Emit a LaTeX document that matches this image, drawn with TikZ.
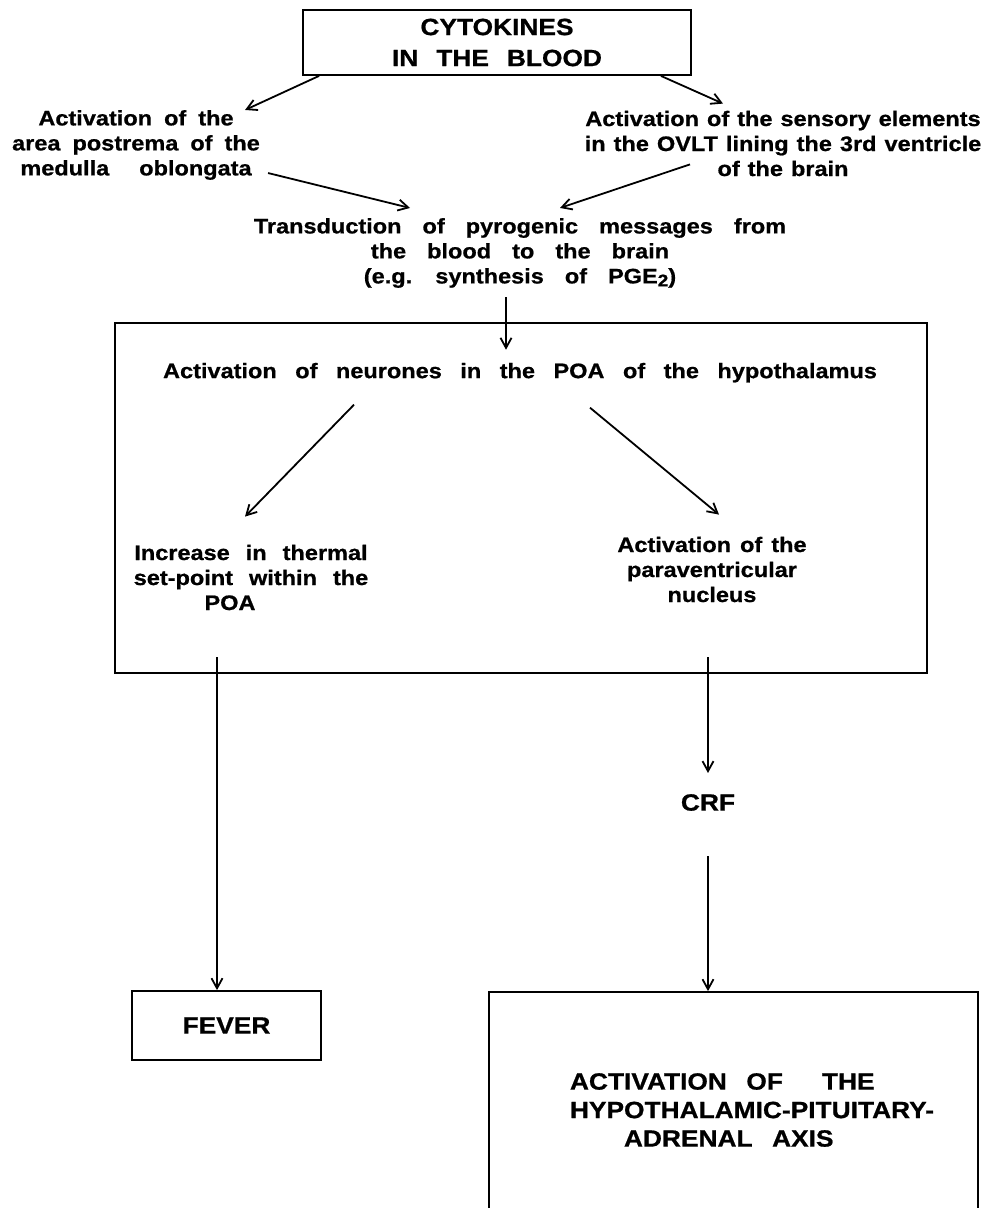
\documentclass[tikz,border=0pt]{standalone}
\usepackage{fontspec}
\setmainfont{Liberation Sans}[FakeStretch=1.12, BoldFeatures={FakeBold=0.8}]
\usetikzlibrary{arrows.meta,calc}

\newcommand{\bodyfont}{\fontsize{21}{25}\selectfont\bfseries}
\newcommand{\headfont}{\fontsize{23.5}{31}\selectfont\bfseries}
\newcommand{\wsp}[1]{\spaceskip=#1pt plus 1pt\relax}

\begin{document}
\begin{tikzpicture}[x=1pt, y=-1pt,
        box/.style={draw, line width=1.8pt, inner sep=0pt},
        txt/.style={inner sep=0pt, align=center},
        flow/.style={line width=1.8pt, -{Straight Barb[length=10pt,width=11pt]}}]

        \useasboundingbox (0,0) rectangle (985,1208);

        % Cytokines
        \node[box, align=center, font=\headfont\wsp{18}, minimum width=388pt, minimum height=65pt] (cyto) at (497,42.5) {CYTOKINES\\IN THE BLOOD};

        % Routes into the brain
        \node[txt, font=\bodyfont\wsp{12}] (postrema) at (136,145) {Activation of the\\area postrema of the\\medulla\hspace{30pt}oblongata};
        \node[txt, font=\bodyfont\wsp{8}] (ovlt) at (783,143.5) {Activation of the sensory elements\\in the OVLT lining the 3rd ventricle\\of the brain};
        \node[txt, font=\bodyfont\wsp{21}] (transd) at (520,253) {Transduction of pyrogenic messages from\\the blood to the brain\\(e.g. synthesis of PGE\raisebox{-3pt}{\fontsize{17}{17}\selectfont 2})};

        % Hypothalamus
        \node[box, minimum width=812pt, minimum height=350pt] (poa) at (521,498) {};
        \node[txt, font=\bodyfont\wsp{18.5}] (neur) at (520,372.7) {Activation of neurones in the POA of the hypothalamus};
        \node[txt, font=\bodyfont\wsp{16}] (setpt) at (251,577.5) {Increase in thermal\\set-point within the\\POA\makebox[42pt]{}};
        \node[txt, font=\bodyfont\wsp{9}] (pvn) at (712,569.5) {Activation of the\\paraventricular\\nucleus};

        % Outcomes
        \node[txt, font=\headfont] (crf) at (708,802.5) {CRF};
        \node[box, font=\headfont, minimum width=189pt, minimum height=69pt] (fever) at (226.5,1025.5) {FEVER};
        \node[box, minimum width=489pt, minimum height=236pt] (hpa) at (733.5,1110) {};
        \node[txt, align=left, font=\fontsize{23.5}{28.5}\selectfont\bfseries\wsp{19.5}] (hpatxt) at (752,1110) {ACTIVATION OF~ THE\\HYPOTHALAMIC-PITUITARY-\\\hspace*{54pt}ADRENAL AXIS};

        % Arrows
        \draw[flow] ([xshift=17pt]cyto.south west) -- ([xshift=-15pt]postrema.north east);
        \draw[flow] ([xshift=-31pt]cyto.south east) -- ([xshift=-60pt,yshift=7pt]ovlt.north);
        \draw[flow] ([xshift=8pt,yshift=7pt]postrema.south east) -- ([xshift=-110pt,yshift=10pt]transd.north);
        \draw[flow] ([xshift=-93pt,yshift=12pt]ovlt.south) -- ([xshift=40pt,yshift=10pt]transd.north);
        \draw[flow] ([xshift=-14pt,yshift=-9pt]transd.south) -- ([xshift=-14pt,yshift=13pt]neur.north);
        \draw[flow] ([xshift=-166pt,yshift=-22pt]neur.south) -- ([xshift=-6pt,yshift=28pt]setpt.north);
        \draw[flow] ([xshift=70pt,yshift=-25pt]neur.south) -- ([xshift=7pt,yshift=22pt]pvn.north);
        \draw[flow] ([xshift=-34pt,yshift=-47pt]setpt.south) -- ([xshift=-9.5pt]fever.north);
        \draw[flow] ([xshift=-4pt,yshift=-55pt]pvn.south) -- ([yshift=21pt]crf.north);
        \draw[flow] ([yshift=-45pt]crf.south) -- ([xshift=-25.5pt]hpa.north);

    \end{tikzpicture}
\end{document}
